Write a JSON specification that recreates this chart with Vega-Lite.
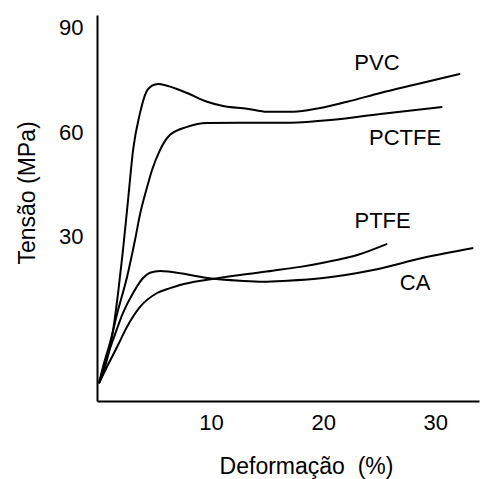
{
  "$schema": "https://vega.github.io/schema/vega-lite/v6.json",
  "autosize": {"type": "none"},
  "width": 382,
  "height": 386,
  "padding": {"left": 97, "top": 15, "right": 3, "bottom": 78},
  "background": "white",
  "config": {
    "view": {"stroke": null},
    "font": "Liberation Sans"
  },
  "datasets": {
    "curves": [
      {"series": "PVC", "strain": 0, "stress": -12},
      {"series": "PVC", "strain": 0.54, "stress": -7.3},
      {"series": "PVC", "strain": 1.16, "stress": 1.3},
      {"series": "PVC", "strain": 1.7, "stress": 13.9},
      {"series": "PVC", "strain": 2.14, "stress": 26.3},
      {"series": "PVC", "strain": 2.59, "stress": 40.6},
      {"series": "PVC", "strain": 3.04, "stress": 55.0},
      {"series": "PVC", "strain": 3.66, "stress": 65.6},
      {"series": "PVC", "strain": 4.11, "stress": 70.8},
      {"series": "PVC", "strain": 4.73, "stress": 73.4},
      {"series": "PVC", "strain": 5.27, "stress": 73.9},
      {"series": "PVC", "strain": 6.07, "stress": 73.4},
      {"series": "PVC", "strain": 7.86, "stress": 71.3},
      {"series": "PVC", "strain": 9.64, "stress": 68.8},
      {"series": "PVC", "strain": 11.07, "stress": 67.6},
      {"series": "PVC", "strain": 13.21, "stress": 66.8},
      {"series": "PVC", "strain": 15.0, "stress": 65.9},
      {"series": "PVC", "strain": 17.05, "stress": 65.9},
      {"series": "PVC", "strain": 18.84, "stress": 66.5},
      {"series": "PVC", "strain": 22.14, "stress": 68.8},
      {"series": "PVC", "strain": 25.09, "stress": 71.3},
      {"series": "PVC", "strain": 28.04, "stress": 73.6},
      {"series": "PVC", "strain": 32.23, "stress": 76.8},

      {"series": "PCTFE", "strain": 0, "stress": -12},
      {"series": "PCTFE", "strain": 0.36, "stress": -7.3},
      {"series": "PCTFE", "strain": 0.98, "stress": -0.4},
      {"series": "PCTFE", "strain": 1.7, "stress": 9.0},
      {"series": "PCTFE", "strain": 2.5, "stress": 18.5},
      {"series": "PCTFE", "strain": 3.21, "stress": 29.1},
      {"series": "PCTFE", "strain": 3.66, "stress": 36.5},
      {"series": "PCTFE", "strain": 4.29, "stress": 44.3},
      {"series": "PCTFE", "strain": 4.73, "stress": 49.2},
      {"series": "PCTFE", "strain": 5.45, "stress": 55.0},
      {"series": "PCTFE", "strain": 6.34, "stress": 59.3},
      {"series": "PCTFE", "strain": 7.86, "stress": 61.6},
      {"series": "PCTFE", "strain": 9.64, "stress": 62.7},
      {"series": "PCTFE", "strain": 12.59, "stress": 62.8},
      {"series": "PCTFE", "strain": 17.05, "stress": 62.8},
      {"series": "PCTFE", "strain": 20.89, "stress": 63.6},
      {"series": "PCTFE", "strain": 25.09, "stress": 65.3},
      {"series": "PCTFE", "strain": 30.63, "stress": 67.3},

      {"series": "CA", "strain": 0, "stress": -12},
      {"series": "CA", "strain": 0.54, "stress": -6.2},
      {"series": "CA", "strain": 1.25, "stress": 0.4},
      {"series": "CA", "strain": 2.14, "stress": 8.2},
      {"series": "CA", "strain": 3.04, "stress": 13.9},
      {"series": "CA", "strain": 3.93, "stress": 18.2},
      {"series": "CA", "strain": 4.55, "stress": 19.7},
      {"series": "CA", "strain": 5.45, "stress": 20.2},
      {"series": "CA", "strain": 6.34, "stress": 20.0},
      {"series": "CA", "strain": 9.64, "stress": 18.2},
      {"series": "CA", "strain": 12.59, "stress": 17.4},
      {"series": "CA", "strain": 14.64, "stress": 17.1},
      {"series": "CA", "strain": 16.79, "stress": 17.4},
      {"series": "CA", "strain": 20.0, "stress": 18.2},
      {"series": "CA", "strain": 24.46, "stress": 20.5},
      {"series": "CA", "strain": 28.93, "stress": 24.0},
      {"series": "CA", "strain": 33.39, "stress": 26.8},

      {"series": "PTFE", "strain": 0, "stress": -12},
      {"series": "PTFE", "strain": 0.71, "stress": -7.3},
      {"series": "PTFE", "strain": 1.61, "stress": -1.6},
      {"series": "PTFE", "strain": 2.5, "stress": 4.2},
      {"series": "PTFE", "strain": 3.66, "stress": 9.9},
      {"series": "PTFE", "strain": 5.18, "stress": 13.9},
      {"series": "PTFE", "strain": 6.34, "stress": 15.3},
      {"series": "PTFE", "strain": 7.23, "stress": 16.2},
      {"series": "PTFE", "strain": 9.64, "stress": 17.7},
      {"series": "PTFE", "strain": 12.59, "stress": 19.1},
      {"series": "PTFE", "strain": 15.5, "stress": 20.3},
      {"series": "PTFE", "strain": 17.95, "stress": 21.4},
      {"series": "PTFE", "strain": 20.0, "stress": 22.6},
      {"series": "PTFE", "strain": 23.04, "stress": 24.8},
      {"series": "PTFE", "strain": 25.71, "stress": 28.0}
    ],
    "labels": [
      {"label": "PVC", "strain": 24.8, "stress": 80.0},
      {"label": "PCTFE", "strain": 27.3, "stress": 58.3},
      {"label": "PTFE", "strain": 25.3, "stress": 34.7},
      {"label": "CA", "strain": 28.2, "stress": 16.7}
    ]
  },
  "layer": [
    {
      "data": {"name": "curves"},
      "mark": {"type": "line", "color": "black", "strokeWidth": 2, "interpolate": "monotone"},
      "encoding": {
        "x": {
          "field": "strain", "type": "quantitative",
          "scale": {"domain": [-0.18, 33.9], "nice": false, "zero": false},
          "axis": {
            "title": "Deformação \u00a0(%)",
            "values": [10, 20, 30],
            "grid": false, "ticks": false, "tickSize": 0,
            "domainColor": "black", "domainWidth": 2,
            "labelFont": "Liberation Sans", "labelFontSize": 22, "labelColor": "black",
            "labelBaseline": "top", "labelPadding": 11,
            "titleFont": "Liberation Sans", "titleFontSize": 23, "titleFontWeight": "normal", "titleColor": "black",
            "titleX": 209, "titleY": 72, "titleBaseline": "alphabetic", "titleAlign": "center"
          }
        },
        "y": {
          "field": "stress", "type": "quantitative",
          "scale": {"domain": [-17.1, 93.7], "nice": false, "zero": false},
          "axis": {
            "title": "Tensão (MPa)",
            "values": [30, 60, 90],
            "grid": false, "ticks": false, "tickSize": 0,
            "domainColor": "black", "domainWidth": 2,
            "labelFont": "Liberation Sans", "labelFontSize": 22, "labelColor": "black",
            "labelPadding": 14,
            "titleFont": "Liberation Sans", "titleFontSize": 23, "titleFontWeight": "normal", "titleColor": "black",
            "titleX": -63, "titleY": 177.5, "titleBaseline": "alphabetic", "titleAlign": "center", "titleAngle": -90
          }
        },
        "detail": {"field": "series", "type": "nominal"}
      }
    },
    {
      "data": {"name": "labels"},
      "mark": {"type": "text", "font": "Liberation Sans", "fontSize": 22, "color": "black", "align": "center", "baseline": "middle"},
      "encoding": {
        "x": {"field": "strain", "type": "quantitative"},
        "y": {"field": "stress", "type": "quantitative"},
        "text": {"field": "label", "type": "nominal"}
      }
    }
  ]
}
